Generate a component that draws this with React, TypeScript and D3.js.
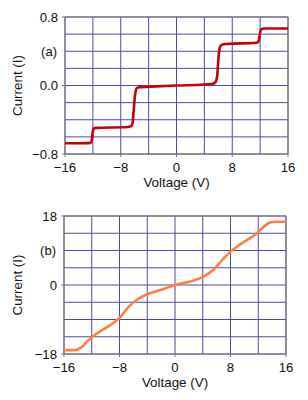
import React from 'react';
import * as d3 from 'd3';

// panel (a): sharp staircase I-V curve
const voltageA = [-16, -13, -12.4, -12.2, -12.05, -11.9, -11.6, -7, -6.5, -6.3, -6.15, -6.0, -5.85, -5.7, -5.3, -4, 0, 4, 5.2, 5.6, 5.85, 6.0, 6.15, 6.3, 6.6, 7.2, 11.5, 11.8, 11.95, 12.1, 12.25, 12.6, 13.5, 16];
const currentA = [-0.675, -0.673, -0.67, -0.66, -0.56, -0.505, -0.495, -0.485, -0.475, -0.44, -0.3, -0.15, -0.06, -0.03, -0.02, -0.015, 0, 0.012, 0.02, 0.04, 0.12, 0.3, 0.42, 0.46, 0.48, 0.485, 0.5, 0.52, 0.6, 0.65, 0.66, 0.665, 0.665, 0.665];

// panel (b): smooth I-V curve
const voltageB = [-16, -14.5, -13.6, -12.8, -11.9, -10.7, -8.8, -7.85, -6.7, -5.2, -4.0, -2.1, 0, 2.2, 4.1, 5.5, 6.8, 8.0, 9.4, 11.8, 12.8, 13.7, 14.6, 16];
const currentB = [-17.0, -17.0, -16.4, -15.0, -13.5, -12.0, -9.8, -8.3, -5.7, -3.5, -2.4, -1.3, 0, 0.9, 2.2, 3.9, 6.5, 8.7, 10.6, 13.5, 15.2, 16.3, 16.5, 16.5];

const xTicks = [-16, -8, 0, 8, 16];
const yTicksA = [-0.8, 0, 0.8];
const yTicksB = [-18, 0, 18];

const FONT = 'Liberation Sans, Arial, Helvetica, sans-serif';

interface PanelProps {
  top: number;
  left: number;
  right: number;
  bottom: number;
  xs: number[];
  ys: number[];
  yDomain: [number, number];
  yTicks: number[];
  yFormat: (v: number) => string;
  tag: string;
  color: string;
}

const Panel: React.FC<PanelProps> = ({ top, left, right, bottom, xs, ys, yDomain, yTicks, yFormat, tag, color }) => {
  const x = d3.scaleLinear().domain([-16, 16]).range([left, right]);
  const y = d3.scaleLinear().domain(yDomain).range([bottom, top]);
  const xGrid = d3.range(-16, 16.01, 4);
  const yStep = (yDomain[1] - yDomain[0]) / 8;
  const yGrid = d3.range(0, 9).map(i => yDomain[0] + i * yStep);

  const line = d3.line<number>()
    .x((_, i) => x(xs[i]))
    .y(d => y(d))
    .curve(d3.curveMonotoneX);

  const mid = (yDomain[0] + yDomain[1]) / 2;
  const tagVal = mid + (yDomain[1] - mid) / 2;

  return (
    <g>
      {xGrid.map(v => (
        <line key={'vx' + v} x1={x(v)} x2={x(v)} y1={top} y2={bottom} stroke="#4a4aa6" strokeWidth={1} />
      ))}
      {yGrid.map(v => (
        <line key={'hy' + v} x1={left} x2={right} y1={y(v)} y2={y(v)} stroke="#4a4aa6" strokeWidth={1} />
      ))}
      <rect x={left} y={top} width={right - left} height={bottom - top} fill="none" stroke="#777" strokeWidth={1} />
      {yTicks.map(v => (
        <line key={'yt' + v} x1={left - 3} x2={left} y1={y(v)} y2={y(v)} stroke="#777" />
      ))}
      {xTicks.map(v => (
        <line key={'xt' + v} x1={x(v)} x2={x(v)} y1={bottom} y2={bottom + 3} stroke="#777" />
      ))}
      <path d={line(ys) || ''} fill="none" stroke={color} strokeWidth={2.6} strokeLinejoin="round" />
      {yTicks.map(v => (
        <text key={'yl' + v} x={left - 7} y={y(v)} dy="0.36em" textAnchor="end" fontSize={13.2} fontFamily={FONT} fill="#111">
          {yFormat(v)}
        </text>
      ))}
      <text x={left - 8} y={y(tagVal)} dy="0.36em" textAnchor="end" fontSize={13} fontFamily={FONT} fill="#111">{tag}</text>
      {xTicks.map(v => (
        <text key={'xl' + v} x={x(v)} y={bottom + 18} textAnchor="middle" fontSize={13.2} fontFamily={FONT} fill="#111">
          {v < 0 ? '\u2212' + Math.abs(v) : String(v)}
        </text>
      ))}
      <text x={(left + right) / 2} y={bottom + 33} textAnchor="middle" fontSize={13.4} fontFamily={FONT} fill="#111">Voltage (V)</text>
      <text transform={`translate(22,${(top + bottom) / 2}) rotate(-90)`} textAnchor="middle" fontSize={13.4} fontFamily={FONT} fill="#111">Current (I)</text>
    </g>
  );
};

const fmtA = (v: number) => (v < 0 ? '\u2212' : '') + Math.abs(v).toFixed(1);
const fmtB = (v: number) => (v < 0 ? '\u2212' : '') + Math.abs(v);

export default function App() {
  return (
    <svg width={308} height={400} style={{ position: 'absolute', left: 0, top: 0, background: '#fff' }}>
      <Panel top={17} bottom={154} left={65} right={288} xs={voltageA} ys={currentA} yDomain={[-0.8, 0.8]}
        yTicks={yTicksA} yFormat={fmtA} tag="(a)" color="#c8000a" />
      <Panel top={216} bottom={354} left={64} right={286} xs={voltageB} ys={currentB} yDomain={[-18, 18]}
        yTicks={yTicksB} yFormat={fmtB} tag="(b)" color="#ff7f40" />
    </svg>
  );
}
